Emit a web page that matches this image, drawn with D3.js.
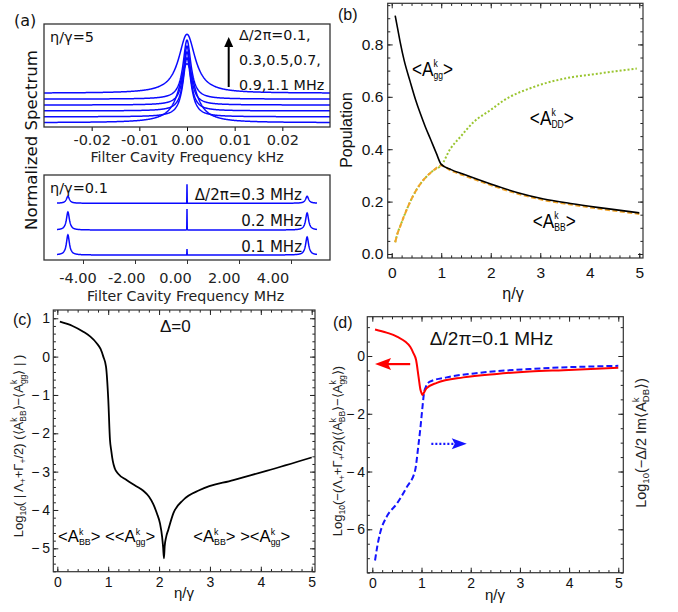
<!DOCTYPE html>
<html><head><meta charset="utf-8">
<script src="https://cdn.jsdelivr.net/npm/d3@7"></script>
<style>
body{margin:0;background:#fff}
svg{display:block}
text{white-space:pre}
</style></head><body>
<svg id="fig" width="678" height="612"></svg>
<script>
// ---------- data ----------
// (a) upper: η/γ = 5, normalized filter-cavity spectra (kHz), stacked by detuning
const specDetunings  = [0.1, 0.3, 0.5, 0.7, 0.9, 1.1];           // Δ/2π in MHz
const specOffsets    = [0, 0.1, 0.2, 0.3, 0.4, 0.5];
const specHalfWidths = [0.0020, 0.0010, 0.0009, 0.0009, 0.0010, 0.0021]; // kHz
const specPeaks      = [1, 1, 1, 1, 1, 1];
const kHzTicks       = [-0.02, -0.01, 0, 0.01, 0.02];

// (a) lower: η/γ = 0.1, spectra (MHz) with two sidebands and a central line
const lowDetunings   = [0.1, 0.2, 0.3];
const lowOffsets     = [0, 1, 2.07];
const lowLeftPeaks   = [0.80, 0.72, 0.28];
const lowCenterPeaks = [0.24, 0.84, 0.76];
const lowRightPeaks  = [0.72, 0.68, 0.28];
const sidebandPos    = [-4.58, 4.62];
const sidebandHW     = 0.07;
const centerHW       = 0.002;
const MHzTicks       = [-4, -2, 0, 2, 4];

// (b) populations vs η/γ
const ggEta = [0.07, 0.12, 0.17, 0.25, 0.37, 0.48, 0.58, 0.68, 0.78, 0.9, 1.0, 1.2, 1.44, 2.0, 2.53, 3.07, 3.61, 4.15, 5.0];
const ggVal = [0.91, 0.86, 0.81, 0.74, 0.66, 0.59, 0.535, 0.485, 0.44, 0.385, 0.342, 0.322, 0.305, 0.267, 0.235, 0.21, 0.193, 0.178, 0.157];
const bbEta = [0.07, 0.12, 0.17, 0.25, 0.35, 0.44, 0.55, 0.71, 0.85, 1.0, 1.2, 1.44, 2.0, 2.53, 3.07, 3.61, 4.15, 5.0];
const bbVal = [0.045, 0.08, 0.105, 0.145, 0.19, 0.225, 0.26, 0.297, 0.32, 0.338, 0.318, 0.301, 0.263, 0.231, 0.206, 0.189, 0.174, 0.153];
const ddEta = [0.07, 0.12, 0.17, 0.25, 0.35, 0.44, 0.55, 0.71, 0.85, 1.0, 1.18, 1.4, 1.65, 2.0, 2.26, 2.86, 3.47, 4.15, 4.95];
const ddVal = [0.045, 0.08, 0.105, 0.145, 0.19, 0.225, 0.26, 0.297, 0.32, 0.338, 0.40, 0.45, 0.503, 0.55, 0.586, 0.637, 0.669, 0.688, 0.708];

// (c) Δ = 0
const cEta = [0.05, 0.3, 0.51, 0.65, 0.774, 0.85, 0.904, 0.957, 1.002, 1.035, 1.06, 1.09, 1.13, 1.2, 1.36, 1.55, 1.69, 1.8, 1.886, 1.96, 2.018, 2.06, 2.08, 2.096, 2.11, 2.14, 2.18, 2.28, 2.475, 2.8, 3.46, 4.11, 5.0];
const cVal = [0.91, 0.80, 0.65, 0.52, 0.35, 0.20, 0.0, -0.26, -1.13, -2.17, -2.45, -2.72, -2.92, -3.06, -3.22, -3.38, -3.5, -3.65, -3.85, -4.1, -4.35, -4.7, -4.98, -5.26, -4.95, -4.7, -4.52, -4.09, -3.74, -3.48, -3.22, -2.98, -2.63];

// (d) Δ/2π = 0.1 MHz
const redEta  = [0.055, 0.29, 0.5, 0.77, 0.83, 0.89, 0.94, 0.98, 1.0, 1.02, 1.04, 1.10, 1.31, 1.85, 2.53, 3.2, 3.88, 5.0];
const redVal  = [0.92, 0.81, 0.67, 0.32, 0.12, -0.14, -0.72, -1.18, -1.28, -1.35, -1.30, -1.12, -0.93, -0.74, -0.62, -0.54, -0.49, -0.41];
const blueEta = [0.055, 0.1, 0.155, 0.29, 0.5, 0.7, 0.87, 0.935, 0.98, 1.02, 1.05, 1.09, 1.17, 1.51, 2.19, 3.2, 5.0];
const blueVal = [-7.08, -6.6, -6.15, -5.57, -5.11, -4.54, -3.96, -3.12, -2.45, -1.76, -1.29, -1.06, -0.89, -0.74, -0.58, -0.45, -0.34];

const etaMajor = [0, 1, 2, 3, 4, 5];
const etaMinor = d3.range(0, 26).map(i => i * 0.2);

// ---------- helpers ----------
const svg = d3.select("#fig");
const MMA = "'Liberation Sans', Arial, sans-serif";
const MPL = "'DejaVu Sans', sans-serif";

// text with stacked super/subscripts; o.anchor 0=start, 0.5=middle; o.sx squeezes horizontally
function rich(parent, parts, o) {
  const outer = parent.append("g").attr("font-family", o.family).attr("fill", o.color || "#000");
  const g = outer.append("g");
  let x = 0;
  const add = (txt, px, py, size) => {
    const t = g.append("text").attr("x", px).attr("y", py).attr("font-size", size).text(txt);
    return t.node().getComputedTextLength();
  };
  parts.forEach(p => {
    if (typeof p === "string") x += add(p, x, 0, o.size);
    else {
      let w = 0;
      if (p.sup) w = Math.max(w, add(p.sup, x, o.supDy, o.small));
      if (p.sub) w = Math.max(w, add(p.sub, x, o.subDy, o.small));
      x += w + (o.gap || 0);
    }
  });
  const sx = o.sx || 1;
  g.attr("transform", `scale(${sx},1) translate(${-x * (o.anchor || 0)},0)`);
  outer.attr("transform", `translate(${o.x},${o.y})` + (o.rotate ? ` rotate(${o.rotate})` : ""));
  return outer;
}

const noDomain = s => s.select(".domain").remove();
const minusFmt = d => d < 0 ? "\u2212\u2009" + Math.abs(d) : String(d);

// framed panel with inward ticks on all four sides
function framedPanel(x, y, o) {
  const g = svg.append("g").attr("color", "#222");
  const [xl, xr] = x.range(), [yb, yt] = y.range();
  const MAJ = 5, MIN = 2.6;
  g.append("g").attr("transform", `translate(0,${yb})`).call(d3.axisBottom(x).tickValues(o.xMinor).tickSize(-MIN).tickFormat("")).call(noDomain);
  g.append("g").attr("transform", `translate(0,${yt})`).call(d3.axisTop(x).tickValues(o.xMinor).tickSize(-MIN).tickFormat("")).call(noDomain);
  g.append("g").attr("transform", `translate(${xl},0)`).call(d3.axisLeft(y).tickValues(o.yMinor).tickSize(-MIN).tickFormat("")).call(noDomain);
  g.append("g").attr("transform", `translate(${xr},0)`).call(d3.axisRight(y).tickValues(o.yMinor).tickSize(-MIN).tickFormat("")).call(noDomain);
  g.append("g").attr("transform", `translate(0,${yt})`).call(d3.axisTop(x).tickValues(o.xMajor).tickSize(-MAJ).tickFormat("")).call(noDomain);
  g.append("g").attr("transform", `translate(${xr},0)`).call(d3.axisRight(y).tickValues(o.yMajor).tickSize(-MAJ).tickFormat("")).call(noDomain);
  const bx = g.append("g").attr("transform", `translate(0,${yb})`)
    .call(d3.axisBottom(x).tickValues(o.xMajor).tickSize(-MAJ).tickPadding(o.xPad).tickFormat(o.xFmt)).call(noDomain);
  const ly = g.append("g").attr("transform", `translate(${xl},0)`)
    .call(d3.axisLeft(y).tickValues(o.yMajor).tickSize(-MAJ).tickPadding(o.yPad).tickFormat(o.yFmt)).call(noDomain);
  [bx, ly].forEach(a => a.attr("font-family", MMA).attr("font-size", o.font).selectAll("text").attr("fill", "#111"));
  g.selectAll(".tick line").attr("stroke-width", 1);
  g.append("rect").attr("x", xl).attr("y", yt).attr("width", xr - xl).attr("height", yb - yt)
    .attr("fill", "none").attr("stroke", "#333").attr("stroke-width", 1.2);
  return g;
}

// ---------- (a) upper panel ----------
const xA1 = d3.scaleLinear().domain([-0.03, 0.03]).range([44, 330]);
const yA1 = d3.scaleLinear().domain([-0.073, 1.673]).range([127, 24]);
const lineA1 = d3.line().x(d => xA1(d[0])).y(d => yA1(d[1]));
const fGrid1 = d3.range(-300, 301).map(i => i / 10000);
const gA1 = svg.append("g");
specDetunings.forEach((det, i) => {
  const pts = fGrid1.map(f => [f, specOffsets[i] + specPeaks[i] / (1 + (f / specHalfWidths[i]) ** 2)]);
  gA1.append("path").attr("d", lineA1(pts)).attr("fill", "none").attr("stroke", "#0a0aff").attr("stroke-width", 1.5);
});
const axA1 = gA1.append("g").attr("transform", "translate(0,127)")
  .call(d3.axisBottom(xA1).tickValues(kHzTicks).tickSize(4).tickPadding(3.7).tickFormat(d => d.toFixed(2))).call(noDomain);
axA1.attr("font-family", MPL).attr("font-size", 14.5).selectAll("text").attr("fill", "#222");
gA1.append("rect").attr("x", 44).attr("y", 24).attr("width", 286).attr("height", 103)
  .attr("fill", "none").attr("stroke", "#333").attr("stroke-width", 1.3);
gA1.append("text").attr("x", 187).attr("y", 162).attr("text-anchor", "middle")
  .attr("font-family", MPL).attr("font-size", 14.2).attr("fill", "#222").text("Filter Cavity Frequency kHz");
gA1.append("text").attr("x", 50).attr("y", 42).attr("font-family", MPL).attr("font-size", 14.5).attr("fill", "#111").text("η/γ=5");
["Δ/2π=0.1,", "0.3,0.5,0.7,", "0.9,1.1 MHz"].forEach((s, i) =>
  gA1.append("text").attr("x", 239).attr("y", 40 + i * 24.8).attr("font-family", MPL).attr("font-size", 14.3).attr("fill", "#111").text(s));
gA1.append("line").attr("x1", 228.7).attr("x2", 228.7).attr("y1", 87).attr("y2", 46).attr("stroke", "#000").attr("stroke-width", 2);
gA1.append("path").attr("d", "M228.7,37 L224.2,47 L233.2,47 Z").attr("fill", "#000");

// ---------- (a) lower panel ----------
const xA2 = d3.scaleLinear().domain([-5.5, 5.5]).range([44, 330]);
const xA2lab = d3.scaleLinear().domain([-4, 4]).range([77.5, 272.5]);
const yA2 = d3.scaleLinear().domain([-0.2, 3.2]).range([260, 175]);
const lineA2 = d3.line().x(d => xA2(d[0])).y(d => yA2(d[1]));
const fGrid2 = d3.range(-500, 501).map(i => i / 100);
const gA2 = svg.append("g");
lowDetunings.forEach((det, i) => {
  const pts = fGrid2.map(f => [f,
    lowOffsets[i]
    + lowLeftPeaks[i] / (1 + ((f - sidebandPos[0]) / sidebandHW) ** 2)
    + lowRightPeaks[i] / (1 + ((f - sidebandPos[1]) / sidebandHW) ** 2)
    + lowCenterPeaks[i] / (1 + (f / centerHW) ** 2)]);
  gA2.append("path").attr("d", lineA2(pts)).attr("fill", "none").attr("stroke", "#0a0aff").attr("stroke-width", 1.5);
});
gA2.append("g").attr("transform", "translate(0,260)").attr("color", "#333")
  .call(d3.axisBottom(xA2).tickValues(MHzTicks).tickSize(4).tickFormat("")).call(noDomain);
const axA2 = gA2.append("g").attr("transform", "translate(0,260)")
  .call(d3.axisBottom(xA2lab).tickValues(MHzTicks).tickSize(0).tickPadding(13).tickFormat(d => d.toFixed(2))).call(noDomain);
axA2.attr("font-family", MPL).attr("font-size", 14.5).selectAll("text").attr("fill", "#222");
axA2.selectAll(".tick line").remove();
gA2.append("rect").attr("x", 44).attr("y", 175).attr("width", 286).attr("height", 85)
  .attr("fill", "none").attr("stroke", "#333").attr("stroke-width", 1.3);
gA2.append("text").attr("x", 185.5).attr("y", 301).attr("text-anchor", "middle")
  .attr("font-family", MPL).attr("font-size", 14.2).attr("fill", "#222").text("Filter Cavity Frequency MHz");
gA2.append("text").attr("x", 50).attr("y", 192.5).attr("font-family", MPL).attr("font-size", 14.5).attr("fill", "#111").text("η/γ=0.1");
["Δ/2π=0.3 MHz", "0.2 MHz", "0.1 MHz"].forEach((s, i) =>
  gA2.append("text").attr("x", 302).attr("y", [200, 226, 251.7][i]).attr("text-anchor", "end")
    .attr("font-family", MPL).attr("font-size", 15).attr("fill", "#111").text(s));

svg.append("text").attr("transform", "translate(37,140) rotate(-90)").attr("text-anchor", "middle")
  .attr("font-family", MPL).attr("font-size", 16.6).attr("fill", "#111").text("Normalized Spectrum");
svg.append("text").attr("x", 14).attr("y", 26).attr("font-family", MPL).attr("font-size", 16).attr("fill", "#111").text("(a)");

// ---------- (b) populations ----------
const xB = d3.scaleLinear().domain([-0.081, 5.075]).range([387.7, 643]);
const yB = d3.scaleLinear().domain([-0.0153, 0.957]).range([258, 3.3]);
const lineB = d3.line().curve(d3.curveMonotoneX).x(d => xB(d[0])).y(d => yB(d[1]));
const gB = framedPanel(xB, yB, {
  xMajor: etaMajor, xMinor: etaMinor, yMajor: [0, 0.2, 0.4, 0.6, 0.8], yMinor: d3.range(0, 20).map(i => i * 0.05),
  xFmt: d => String(d), yFmt: d3.format(".1f"), font: 15.5, xPad: 8.6, yPad: 4.4
});
gB.append("path").attr("d", lineB(d3.zip(ddEta, ddVal))).attr("fill", "none")
  .attr("stroke", "#9ac530").attr("stroke-width", 2).attr("stroke-dasharray", "2,2");
gB.append("path").attr("d", lineB(d3.zip(bbEta, bbVal))).attr("fill", "none")
  .attr("stroke", "#f2a52a").attr("stroke-width", 2).attr("stroke-dasharray", "5,2.5");
gB.append("path").attr("d", lineB(d3.zip(ggEta, ggVal))).attr("fill", "none")
  .attr("stroke", "#000").attr("stroke-width", 1.6);
const popLab = { family: MMA, size: 20, small: 10, supDy: -9, subDy: 3, sx: 0.86 };
rich(svg, ["<A", { sup: "k", sub: "gg" }, ">"], { ...popLab, x: xB(0.41), y: yB(0.679) });
rich(svg, ["<A", { sup: "k", sub: "DD" }, ">"], { ...popLab, x: xB(2.79), y: yB(0.492) });
rich(svg, ["<A", { sup: "k", sub: "BB" }, ">"], { ...popLab, x: xB(2.85), y: yB(0.099) });
svg.append("text").attr("transform", "translate(352,130) rotate(-90)").attr("text-anchor", "middle")
  .attr("font-family", MMA).attr("font-size", 16).attr("fill", "#111").text("Population");
svg.append("text").attr("x", 513).attr("y", 299).attr("text-anchor", "middle")
  .attr("font-family", MMA).attr("font-size", 16).attr("fill", "#111").text("η/γ");
svg.append("text").attr("x", 338).attr("y", 20).attr("font-family", MMA).attr("font-size", 16).attr("fill", "#111").text("(b)");

// ---------- (c) Δ = 0 ----------
const xC = d3.scaleLinear().domain([-0.079, 5.065]).range([53.3, 315]);
const yC = d3.scaleLinear().domain([-5.61, 1.216]).range([571.7, 310]);
const lineC = d3.line().curve(d3.curveMonotoneX).x(d => xC(d[0])).y(d => yC(d[1]));
const gC = framedPanel(xC, yC, {
  xMajor: etaMajor, xMinor: etaMinor, yMajor: [1, 0, -1, -2, -3, -4, -5], yMinor: d3.range(-28, 7).map(i => i * 0.2),
  xFmt: d => String(d), yFmt: minusFmt, font: 14, xPad: 5, yPad: 3.3
});
gC.append("path").attr("d", lineC(d3.zip(cEta, cVal))).attr("fill", "none").attr("stroke", "#000").attr("stroke-width", 1.8);
svg.append("text").attr("x", xC(2.32)).attr("y", yC(0.645)).attr("text-anchor", "middle")
  .attr("font-family", MMA).attr("font-size", 17).attr("fill", "#111").text("Δ=0");
const cmpLab = { family: MMA, size: 17, small: 9, supDy: -7.5, subDy: 3, sx: 0.98 };
rich(svg, ["<A", { sup: "k", sub: "BB" }, "> <<A", { sup: "k", sub: "gg" }, ">"], { ...cmpLab, x: xC(0.015), y: yC(-4.84) });
rich(svg, ["<A", { sup: "k", sub: "BB" }, "> ><A", { sup: "k", sub: "gg" }, ">"], { ...cmpLab, x: xC(2.67), y: yC(-4.84) });
const logLab = { family: MMA, size: 13, small: 8.5, supDy: -6.5, subDy: 3, color: "#222", rotate: -90, anchor: 0.5 };
rich(svg, ["Log", { sub: "10" }, "( | Λ", { sub: "+" }, "+Γ", { sub: "+" }, "/2) (⟨A", { sup: "k", sub: "BB" }, "⟩−⟨A", { sup: "k", sub: "gg" }, "⟩ | )"],
  { ...logLab, x: 23, y: 446 });
svg.append("text").attr("x", 184).attr("y", 598).attr("text-anchor", "middle")
  .attr("font-family", MMA).attr("font-size", 15).attr("fill", "#111").text("η/γ");
svg.append("text").attr("x", 13).attr("y", 325).attr("font-family", MMA).attr("font-size", 16).attr("fill", "#111").text("(c)");

// ---------- (d) Δ/2π = 0.1 MHz ----------
const xD = d3.scaleLinear().domain([-0.102, 5.102]).range([367.3, 623.3]);
const yD = d3.scaleLinear().domain([-7.503, 1.361]).range([572.7, 316.7]);
const lineD = d3.line().curve(d3.curveMonotoneX).x(d => xD(d[0])).y(d => yD(d[1]));
const gD = framedPanel(xD, yD, {
  xMajor: etaMajor, xMinor: etaMinor, yMajor: [0, -2, -4, -6], yMinor: d3.range(-15, 3).map(i => i * 0.5),
  xFmt: d => String(d), yFmt: minusFmt, font: 14, xPad: 5.6, yPad: 2.3
});
gD.append("path").attr("d", lineD(d3.zip(blueEta, blueVal))).attr("fill", "none")
  .attr("stroke", "#1414ff").attr("stroke-width", 2).attr("stroke-dasharray", "6,3");
gD.append("path").attr("d", lineD(d3.zip(redEta, redVal))).attr("fill", "none")
  .attr("stroke", "#ff0000").attr("stroke-width", 2);
// direction arrows: red curve → left axis, blue curve → right axis
gD.append("line").attr("x1", xD(0.77)).attr("x2", xD(0.3)).attr("y1", yD(-0.28)).attr("y2", yD(-0.28))
  .attr("stroke", "#ff0000").attr("stroke-width", 2.2);
gD.append("path").attr("d", `M${xD(0.055)},${yD(-0.28)} l16,-6 l-3,6 l3,6 Z`).attr("fill", "#ff0000");
gD.append("line").attr("x1", xD(1.2)).attr("x2", xD(1.7)).attr("y1", yD(-3.04)).attr("y2", yD(-3.04))
  .attr("stroke", "#1414ff").attr("stroke-width", 2.2).attr("stroke-dasharray", "2,2");
gD.append("path").attr("d", `M${xD(1.92)},${yD(-3.04)} l-15,-5.5 l3,5.5 l-3,5.5 Z`).attr("fill", "#1414ff");
svg.append("text").attr("x", xD(1.17)).attr("y", yD(0.38))
  .attr("font-family", MMA).attr("font-size", 19).attr("fill", "#111").text("Δ/2π=0.1 MHz");
rich(svg, ["Log", { sub: "10" }, "(−(Λ", { sub: "+" }, "+Γ", { sub: "+" }, "/2)(⟨A", { sup: "k", sub: "BB" }, "⟩−⟨A", { sup: "k", sub: "gg" }, "⟩)"],
  { ...logLab, x: 342, y: 451 });
rich(svg, ["Log", { sub: "10" }, "(−Δ/2 Im⟨A", { sup: "k", sub: "DB" }, "⟩)"],
  { ...logLab, size: 14.5, small: 9.5, supDy: -7, x: 646, y: 443 });
svg.append("text").attr("x", 495).attr("y", 600).attr("text-anchor", "middle")
  .attr("font-family", MMA).attr("font-size", 15).attr("fill", "#111").text("η/γ");
svg.append("text").attr("x", 333).attr("y", 328).attr("font-family", MMA).attr("font-size", 16).attr("fill", "#111").text("(d)");
</script>
</body></html>
